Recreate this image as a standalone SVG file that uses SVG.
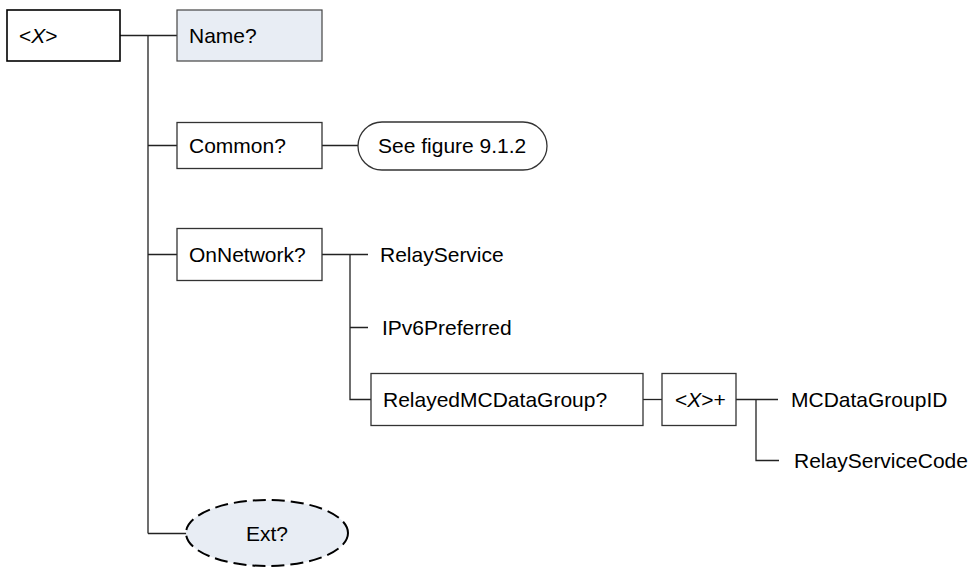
<svg xmlns="http://www.w3.org/2000/svg" width="971" height="568" viewBox="0 0 971 568">
<style>
text{font-family:"Liberation Sans",Arial,sans-serif;font-size:21px;fill:#000}
.box{fill:#fff;stroke:#333;stroke-width:1.3}
.root{fill:#fff;stroke:#000;stroke-width:1.6}
.opt{fill:#e8edf4;stroke:#444;stroke-width:1.2}
.ln{stroke:#222;stroke-width:1.3;fill:none}
</style>
<rect width="971" height="568" fill="#fff"/>
<g id="connectors">
<path class="ln" d="M120 35.5H177M148 35.5V533.5M148 145.5H177M148 254.5H177M148 533.5H187"/>
<path class="ln" d="M322 145.5H358"/>
<path class="ln" d="M322 254.5H368M350 254.5V399.5H371M350 327.5H368"/>
<path class="ln" d="M643 399.5H662"/>
<path class="ln" d="M736 399.5H778M756 399.5V460.5H779"/>
</g>
<g id="root"><rect class="root" x="7" y="10" width="113" height="51"/><text x="19" y="43">&lt;<tspan font-style="italic">X</tspan>&gt;</text></g>
<g id="name"><rect class="opt" x="177" y="10" width="145" height="51"/><text x="189" y="43">Name?</text></g>
<g id="common"><rect class="box" x="177" y="122.5" width="145" height="46"/><text x="189" y="153">Common?</text></g>
<g id="seefig"><rect class="box" x="358" y="122" width="189" height="48" rx="24" ry="24"/><text x="378" y="153">See figure 9.1.2</text></g>
<g id="onnetwork"><rect class="box" x="177" y="228.5" width="145" height="52"/><text x="189" y="262">OnNetwork?</text></g>
<g id="relayservice"><text x="380" y="262">RelayService</text></g>
<g id="ipv6"><text x="382" y="335">IPv6Preferred</text></g>
<g id="relayedgroup"><rect class="box" x="371" y="373.5" width="272" height="52"/><text x="383" y="407">RelayedMCDataGroup?</text></g>
<g id="xplus"><rect class="box" x="662" y="373.5" width="74" height="52"/><text x="675" y="407">&lt;<tspan font-style="italic">X</tspan>&gt;+</text></g>
<g id="mcdatagroupid"><text x="791" y="407">MCDataGroupID</text></g>
<g id="relayservicecode"><text x="794" y="468">RelayServiceCode</text></g>
<g id="ext"><ellipse cx="267" cy="533" rx="81" ry="33" fill="#e8edf4" stroke="#000" stroke-width="2" stroke-dasharray="13 6"/><text x="267" y="541" text-anchor="middle">Ext?</text></g>
</svg>
